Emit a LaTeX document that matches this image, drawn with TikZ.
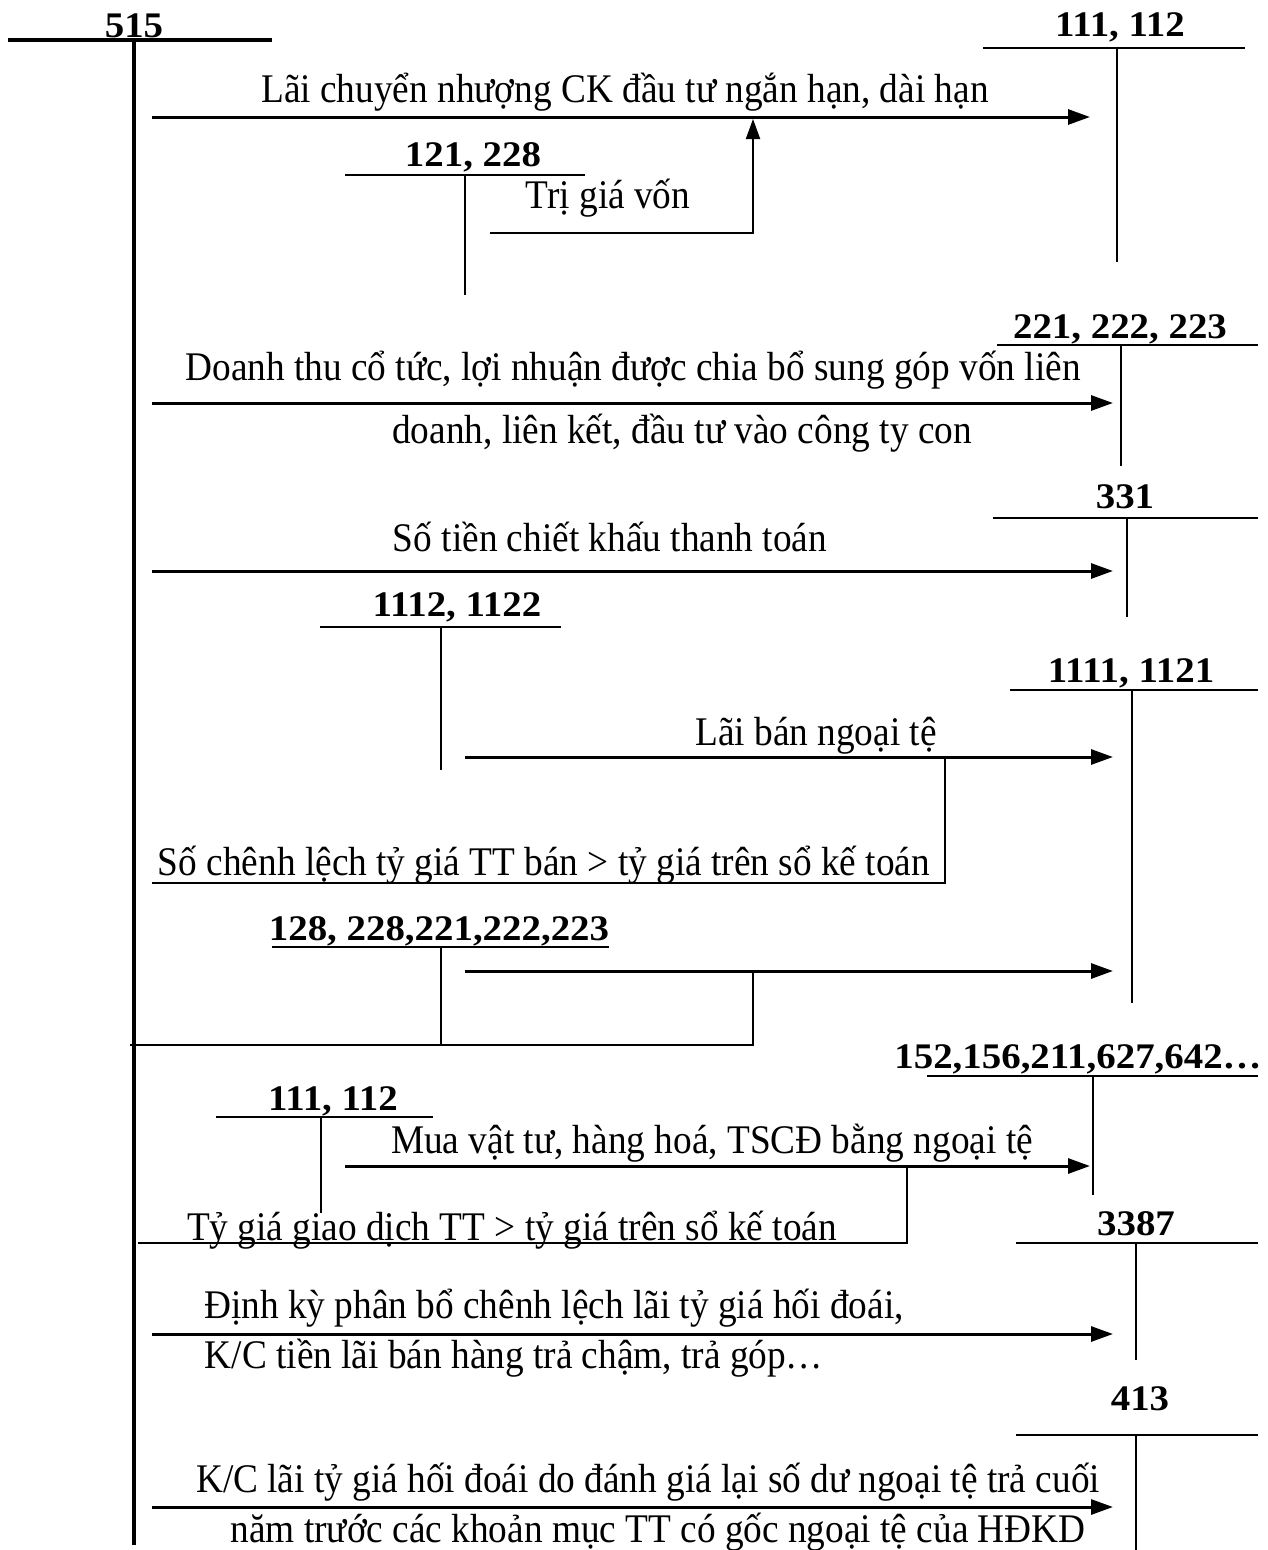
\documentclass[tikz,border=0pt]{standalone}
\usepackage{fontspec}
\usepackage{graphicx}
\setmainfont{Liberation Serif}
\usetikzlibrary{arrows.meta}
\newcommand{\rtx}[1]{\scalebox{1}[1.09]{#1}}
\newcommand{\btx}[1]{\scalebox{1.08}[1]{#1}}
\begin{document}
\begin{tikzpicture}[x=1pt,y=-1pt,
  acct/.style={font=\bfseries\fontsize{36}{40}\selectfont, inner sep=0pt, anchor=base},
  lbl/.style={font=\fontsize{37.3}{42}\selectfont, inner sep=0pt, anchor=base},
  tline/.style={line width=2pt},
  mainline/.style={line width=3.5pt},
  flow/.style={line width=3pt, -{Triangle[length=22pt,width=15pt]}},
  link/.style={line width=2pt},
]
\useasboundingbox (0,0) rectangle (1268,1550);

% ---- account 515
\node[acct] (a515) at (134,37) {\btx{515}};
\coordinate (a515L) at (8,40); \coordinate (a515R) at (272,40);
\coordinate (a515T) at (134,40); \coordinate (a515B) at (134,1545);
\draw[mainline] (a515L) -- (a515R);
\draw[mainline] (a515T) -- (a515B);

% ---- account 111,112 (top)
\node[acct] (a111) at (1120,36) {\btx{111, 112}};
\coordinate (a111L) at (983,48); \coordinate (a111R) at (1245,48);
\coordinate (a111T) at (1117,48); \coordinate (a111B) at (1117,262);
\draw[tline] (a111L) -- (a111R);
\draw[tline] (a111T) -- (a111B);

\coordinate (f1s) at (152,117); \coordinate (f1e) at (1090,117);
\draw[flow] (f1s) -- (f1e);
\node[lbl] (t1) at (625,102) {\rtx{Lãi chuyển nhượng CK đầu tư ngắn hạn, dài hạn}};

% ---- account 121,228
\node[acct] (a121) at (473,166) {\btx{121, 228}};
\coordinate (a121L) at (345,175); \coordinate (a121R) at (585,175);
\coordinate (a121T) at (465,175); \coordinate (a121B) at (465,295);
\draw[tline] (a121L) -- (a121R);
\draw[tline] (a121T) -- (a121B);
\node[lbl] (t1b) at (608,208) {\rtx{Trị giá vốn}};
\coordinate (c1s) at (490,233); \coordinate (c1k) at (753,233); \coordinate (c1e) at (753,119);
\draw[link, -{Triangle[length=20pt,width=14pt]}] (c1s) -- (c1k) -- (c1e);

% ---- account 221,222,223
\node[acct] (a221) at (1120,338) {\btx{221, 222, 223}};
\coordinate (a221L) at (997,345); \coordinate (a221R) at (1258,345);
\coordinate (a221T) at (1121,345); \coordinate (a221B) at (1121,466);
\draw[tline] (a221L) -- (a221R);
\draw[tline] (a221T) -- (a221B);
\coordinate (f2s) at (152,403); \coordinate (f2e) at (1113,403);
\draw[flow] (f2s) -- (f2e);
\node[lbl] (t2a) at (633,380) {\rtx{Doanh thu cổ tức, lợi nhuận được chia bổ sung góp vốn liên}};
\node[lbl] (t2b) at (682,443) {\rtx{doanh, liên kết, đầu tư vào công ty con}};

% ---- account 331
\node[acct] (a331) at (1125,508) {\btx{331}};
\coordinate (a331L) at (993,518); \coordinate (a331R) at (1258,518);
\coordinate (a331T) at (1127,518); \coordinate (a331B) at (1127,617);
\draw[tline] (a331L) -- (a331R);
\draw[tline] (a331T) -- (a331B);
\coordinate (f3s) at (152,571); \coordinate (f3e) at (1113,571);
\draw[flow] (f3s) -- (f3e);
\node[lbl] (t3) at (610,551) {\rtx{Số tiền chiết khấu thanh toán}};

% ---- account 1112,1122
\node[acct] (a1112) at (457,616) {\btx{1112, 1122}};
\coordinate (a1112L) at (320,627); \coordinate (a1112R) at (561,627);
\coordinate (a1112T) at (441,627); \coordinate (a1112B) at (441,770);
\draw[tline] (a1112L) -- (a1112R);
\draw[tline] (a1112T) -- (a1112B);

% ---- account 1111,1121
\node[acct] (a1111) at (1131,682) {\btx{1111, 1121}};
\coordinate (a1111L) at (1010,690); \coordinate (a1111R) at (1258,690);
\coordinate (a1111T) at (1132,690); \coordinate (a1111B) at (1132,1003);
\draw[tline] (a1111L) -- (a1111R);
\draw[tline] (a1111T) -- (a1111B);
\coordinate (f4s) at (465,757); \coordinate (f4e) at (1113,757);
\draw[flow] (f4s) -- (f4e);
\node[lbl] (t4) at (816,745) {\rtx{Lãi bán ngoại tệ}};
\coordinate (c4s) at (945,757); \coordinate (c4k) at (945,883); \coordinate (c4e) at (152,883);
\draw[link] (c4s) -- (c4k) -- (c4e);
\node[lbl] (t4b) at (544,875) {\rtx{Số chênh lệch tỷ giá TT bán > tỷ giá trên sổ kế toán}};

% ---- account 128,228,221,222,223
\node[acct] (a128) at (439,940) {\btx{128, 228,221,222,223}};
\coordinate (a128L) at (272,947); \coordinate (a128R) at (609,947);
\coordinate (a128T) at (441,947); \coordinate (a128B) at (441,1045);
\draw[tline] (a128L) -- (a128R);
\draw[tline] (a128T) -- (a128B);
\coordinate (f5s) at (465,971); \coordinate (f5e) at (1113,971);
\draw[flow] (f5s) -- (f5e);
\coordinate (c5s) at (753,971); \coordinate (c5k) at (753,1045); \coordinate (c5e) at (130,1045);
\draw[link] (c5s) -- (c5k) -- (c5e);

% ---- account 152,156,...
\node[acct] (a152) at (1078,1068) {\btx{152,156,211,627,642…}};
\coordinate (a152L) at (927,1076); \coordinate (a152R) at (1258,1076);
\coordinate (a152T) at (1093,1076); \coordinate (a152B) at (1093,1195);
\draw[tline] (a152L) -- (a152R);
\draw[tline] (a152T) -- (a152B);

% ---- account 111,112 (lower)
\node[acct] (a111b) at (333,1110) {\btx{111, 112}};
\coordinate (a111bL) at (216,1117); \coordinate (a111bR) at (433,1117);
\coordinate (a111bT) at (321,1117); \coordinate (a111bB) at (321,1213);
\draw[tline] (a111bL) -- (a111bR);
\draw[tline] (a111bT) -- (a111bB);
\coordinate (f6s) at (345,1166); \coordinate (f6e) at (1090,1166);
\draw[flow] (f6s) -- (f6e);
\node[lbl] (t6) at (712,1153) {\rtx{Mua vật tư, hàng hoá, TSCĐ bằng ngoại tệ}};
\coordinate (c6s) at (907,1166); \coordinate (c6k) at (907,1243); \coordinate (c6e) at (138,1243);
\draw[link] (c6s) -- (c6k) -- (c6e);
\node[lbl] (t6b) at (512,1240) {\rtx{Tỷ giá giao dịch TT > tỷ giá trên sổ kế toán}};

% ---- account 3387
\node[acct] (a3387) at (1136,1235) {\btx{3387}};
\coordinate (a3387L) at (1016,1243); \coordinate (a3387R) at (1258,1243);
\coordinate (a3387T) at (1136,1243); \coordinate (a3387B) at (1136,1360);
\draw[tline] (a3387L) -- (a3387R);
\draw[tline] (a3387T) -- (a3387B);
\coordinate (f7s) at (152,1334); \coordinate (f7e) at (1113,1334);
\draw[flow] (f7s) -- (f7e);
\node[lbl] (t7a) at (554,1318) {\rtx{Định kỳ phân bổ chênh lệch lãi tỷ giá hối đoái,}};
\node[lbl] (t7b) at (514,1368) {\rtx{K/C tiền lãi bán hàng trả chậm, trả góp…}};

% ---- account 413
\node[acct] (a413) at (1140,1410) {\btx{413}};
\coordinate (a413L) at (1016,1435); \coordinate (a413R) at (1258,1435);
\coordinate (a413T) at (1136,1435); \coordinate (a413B) at (1136,1550);
\draw[tline] (a413L) -- (a413R);
\draw[tline] (a413T) -- (a413B);
\coordinate (f8s) at (152,1507); \coordinate (f8e) at (1113,1507);
\draw[flow] (f8s) -- (f8e);
\node[lbl] (t8a) at (648,1492) {\rtx{K/C lãi tỷ giá hối đoái do đánh giá lại số dư ngoại tệ trả cuối}};
\node[lbl] (t8b) at (658,1542) {\rtx{năm trước các khoản mục TT có gốc ngoại tệ của HĐKD}};
\end{tikzpicture}
\end{document}
